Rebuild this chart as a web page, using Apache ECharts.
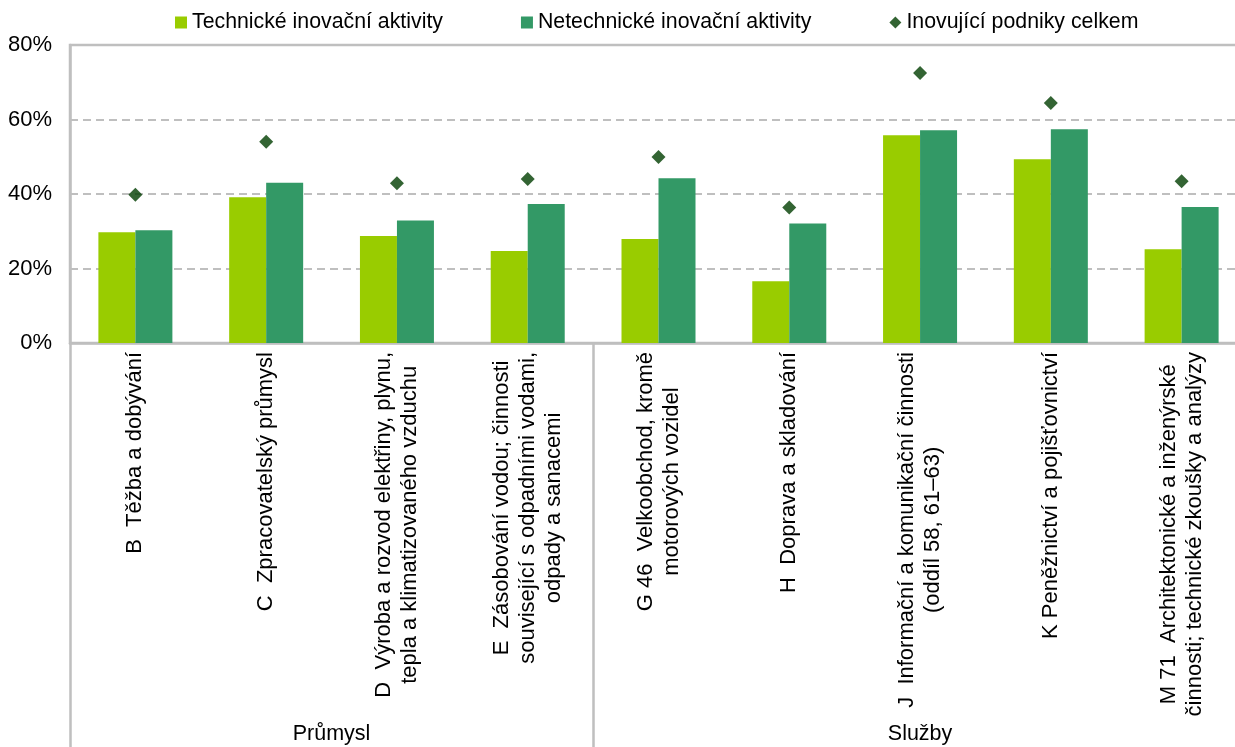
<!DOCTYPE html>
<html>
<head>
<meta charset="utf-8">
<script src="https://cdn.jsdelivr.net/npm/echarts@6/dist/echarts.min.js"></script>
<style>
  html, body { margin: 0; padding: 0; background: #ffffff; }
  #chart { width: 1235px; height: 747px; }
</style>
</head>
<body>
<div id="chart"></div>
<script>
// ---- data ----
const categories = [
  'B  Těžba a dobývání',
  'C  Zpracovatelský průmysl',
  'D  Výroba a rozvod elektřiny, plynu,\ntepla a klimatizovaného vzduchu',
  'E  Zásobování vodou; činnosti\nsouvisející s odpadními vodami,\nodpady a sanacemi',
  'G 46  Velkoobchod, kromě\nmotorových vozidel',
  'H  Doprava a skladování',
  'J  Informační a komunikační činnosti\n(oddíl 58, 61–63)',
  'K Peněžnictví a pojišťovnictví',
  'M 71  Architektonické a inženýrské\nčinnosti; technické zkoušky a analýzy'
];
const groupNames = ['Průmysl', 'Služby'];
const groupSizes = [4, 5];
const seriesNames = ['Technické inovační aktivity', 'Netechnické inovační aktivity', 'Inovující podniky celkem'];
const technicke = [29.7, 39.1, 28.7, 24.7, 27.9, 16.6, 55.8, 49.3, 25.2];
const netechnicke = [30.3, 43.0, 32.9, 37.3, 44.2, 32.1, 57.1, 57.4, 36.5];
const celkem = [39.8, 54.0, 42.9, 44.0, 49.9, 36.4, 72.5, 64.4, 43.4];
const yTicks = [0, 20, 40, 60, 80];

// ---- derived group positions ----
const groupBounds = [0];
const groupCenters = [];
groupSizes.forEach((n) => {
  const start = groupBounds[groupBounds.length - 1];
  groupCenters.push(start + n / 2);
  groupBounds.push(start + n);
});
const totalCats = groupBounds[groupBounds.length - 1];

const FONT = "'Liberation Sans', Arial, sans-serif";
const GRAY = '#BFBFBF';

const chart = echarts.init(document.getElementById('chart'), null, { renderer: 'canvas' });
chart.setOption({
  animation: false,
  backgroundColor: '#ffffff',
  textStyle: { fontFamily: FONT },
  legend: {
    left: 170,
    top: 7,
    itemWidth: 12,
    itemHeight: 12,
    itemGap: 78,
    textStyle: { fontFamily: FONT, fontSize: 21.3, color: '#000' },
    data: [
      { name: seriesNames[0], icon: 'rect' },
      { name: seriesNames[1], icon: 'rect' },
      { name: seriesNames[2], icon: 'diamond' }
    ]
  },
  grid: {
    left: 70,
    width: 1177,
    top: 45,
    height: 298,
    outerBoundsMode: 'none',
    show: true,
    borderColor: GRAY,
    borderWidth: 2.5,
    containLabel: false
  },
  xAxis: [
    {
      type: 'category',
      data: categories,
      position: 'bottom',
      axisLine: { show: true, lineStyle: { color: GRAY, width: 2.5 } },
      axisTick: { show: false },
      axisLabel: {
        interval: 0,
        rotate: 90,
        margin: 9,
        color: '#000',
        fontFamily: FONT,
        fontSize: 22,
        formatter: function (v) {
          return v.split('\n').map(l => '{c|' + l + '}').join('\n');
        },
        rich: {
          c: { align: 'center', fontFamily: FONT, fontSize: 22, lineHeight: 26, color: '#000' }
        }
      }
    },
    {
      type: 'value',
      position: 'bottom',
      min: 0,
      max: totalCats,
      axisLine: { show: false },
      splitLine: { show: false },
      axisTick: {
        show: true,
        inside: false,
        length: 404,
        customValues: groupBounds,
        lineStyle: { color: GRAY, width: 2.5 }
      },
      axisLabel: {
        show: true,
        margin: 380,
        color: '#000',
        fontFamily: FONT,
        fontSize: 21.5,
        customValues: groupCenters,
        formatter: function (v) {
          const idx = groupCenters.indexOf(v);
          return idx >= 0 ? groupNames[idx] : '';
        }
      }
    }
  ],
  yAxis: {
    type: 'value',
    min: yTicks[0],
    max: yTicks[yTicks.length - 1],
    interval: yTicks[1] - yTicks[0],
    axisLine: { show: true, lineStyle: { color: GRAY, width: 2.5 } },
    axisTick: { show: false },
    axisLabel: {
      margin: 18,
      color: '#000',
      fontFamily: FONT,
      fontSize: 22,
      formatter: '{value}%'
    },
    splitLine: { show: true, lineStyle: { color: GRAY, width: 2, type: [8, 5] } }
  },
  series: [
    {
      name: seriesNames[0],
      type: 'bar',
      data: technicke,
      barWidth: 37,
      barGap: '0%',
      itemStyle: { color: '#99CC00' }
    },
    {
      name: seriesNames[1],
      type: 'bar',
      data: netechnicke,
      barWidth: 37,
      barGap: '0%',
      itemStyle: { color: '#339966' }
    },
    {
      name: seriesNames[2],
      type: 'scatter',
      data: celkem,
      symbol: 'diamond',
      symbolSize: 14,
      itemStyle: { color: '#003D00' },
      z: 5
    }
  ]
});
</script>
</body>
</html>
